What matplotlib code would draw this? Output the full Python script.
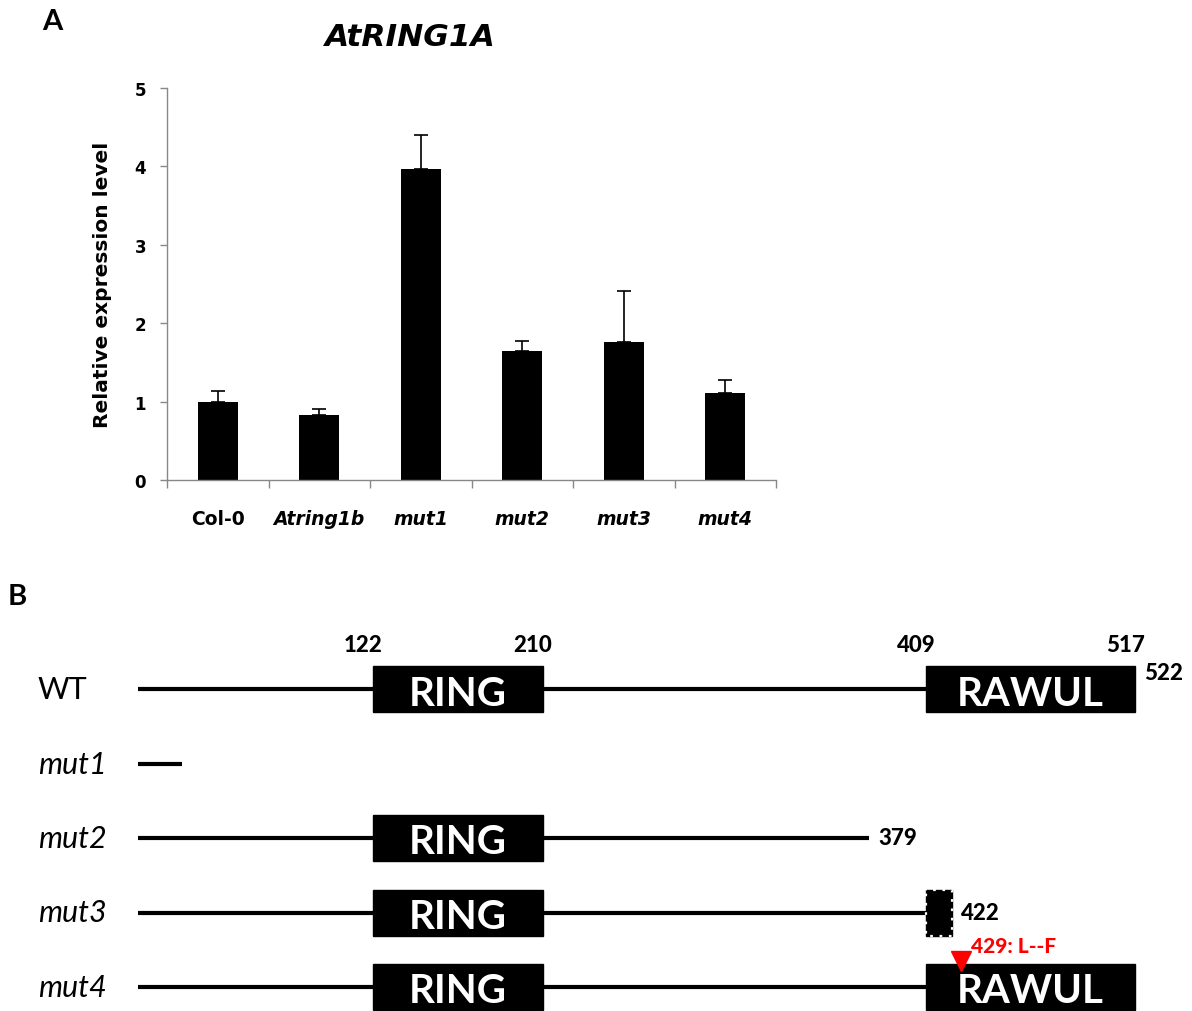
import matplotlib.pyplot as plt
from matplotlib.patches import Rectangle
import numpy as np

# qRT-PCR expression of AtRING1A
samples = ['Col-0', 'Atring1b', 'mut1', 'mut2', 'mut3', 'mut4']
expr_mean = [1.00, 0.83, 3.97, 1.65, 1.76, 1.11]
expr_err = [0.13, 0.07, 0.43, 0.12, 0.65, 0.16]

# protein domain map (amino acid positions)
wt_length = 522
ring_domain = (122, 210)
rawul_domain = (409, 517)
lines = ['WT', 'mut1', 'mut2', 'mut3', 'mut4']
protein_end = [522, 23, 379, 422, 522]
end_labels = ['522', '', '379', '422', '']
point_mutation = (429, '429: L--F')

fig = plt.figure(figsize=(11.92, 10.12), dpi=100)

# ---------------- panel B (drawn on a full-figure canvas) ----------------
axb = fig.add_axes([0, 0, 1, 1])
px_per_aa = 1.929
x0 = 137.5
axb.set_xlim(-x0 / px_per_aa, (1192 - x0) / px_per_aa)
axb.set_ylim(1012, 0)
axb.axis('off')
axb.patch.set_alpha(0)

row_y = [690 + i * 74.5 for i in range(len(lines))]
box_h = 46
lato = ['Lato', 'DejaVu Sans']


def draw_box(start, stop, y, label, dashed=False):
    axb.add_patch(Rectangle((start, y - box_h / 2), stop - start, box_h,
                            facecolor='black', edgecolor='black', lw=1, zorder=3))
    if dashed:
        # broken outline for the truncated domain
        axb.add_patch(Rectangle((start, y - box_h / 2), stop - start, box_h,
                                facecolor='none', edgecolor='white', lw=1.6,
                                linestyle=(1, (1.2, 3.0)), zorder=4))
        return
    if label:
        axb.text((start + stop) / 2, y + 4, label, color='white', fontsize=29,
                 fontweight='bold', family=lato, ha='center', va='center', zorder=4)


for name, end, lab, y in zip(lines, protein_end, end_labels, row_y):
    axb.plot([0, min(end, rawul_domain[1])], [y, y], color='black', lw=3,
             solid_capstyle='butt', zorder=2)
    style = 'normal' if name == 'WT' else 'italic'
    axb.text(-x0 / px_per_aa + 38 / px_per_aa, y, name, fontsize=22, style=style,
             family=lato, ha='left', va='center')
    if end >= ring_domain[1]:
        draw_box(*ring_domain, y, 'RING')
    if name == 'mut3':
        draw_box(rawul_domain[0], end, y, '', dashed=True)
    elif end >= rawul_domain[1]:
        draw_box(*rawul_domain, y, 'RAWUL')
    if lab:
        dy = -16 if name == 'WT' else 0
        gap = 0 if name == 'WT' else 7
        axb.annotate(lab, (end, y + dy), xytext=(gap, 0), textcoords='offset points',
                     fontsize=16, fontweight='black', family=lato, ha='left', va='center')

# domain boundaries above the WT protein
for pos in (*ring_domain, *rawul_domain):
    axb.annotate(str(pos), (pos, row_y[0] - box_h / 2), xytext=(-7, 8),
                 textcoords='offset points', fontsize=16, fontweight='black',
                 family=lato, ha='center', va='bottom')

# point mutation in mut4
mpos, mtext = point_mutation
axb.plot(mpos - 2, row_y[4] - 26, marker='v', color='red', ms=15, zorder=5, clip_on=False)
axb.annotate(mtext, (mpos, row_y[4] - 26), xytext=(4, 11), textcoords='offset points',
             fontsize=15, fontweight='black', family=lato, color='red',
             ha='left', va='center')

# ---------------- panel A ----------------
ax = fig.add_axes([167 / 1192, 1 - 481 / 1012, 609 / 1192, 392 / 1012])
x = np.arange(len(samples))
ax.bar(x, expr_mean, width=0.39, color='black', zorder=2)
ax.errorbar(x, expr_mean, yerr=[np.zeros(len(expr_err)), expr_err], fmt='none',
            ecolor='black', elinewidth=1.2, capsize=5, capthick=1.2, zorder=1)
ax.set_xlim(-0.5, len(samples) - 0.5)
ax.set_ylim(0, 5)
ax.set_yticks(range(6))
ax.set_yticklabels([str(v) for v in range(6)], fontsize=12, fontweight='bold')
ax.set_xticks(x)
ax.set_xticklabels(samples, fontsize=13.5, fontweight='bold')
for t in ax.get_xticklabels()[1:]:
    t.set_style('italic')
ax.set_xticks(np.arange(-0.5, len(samples)), minor=True)
ax.tick_params(axis='x', which='major', length=0, pad=21)
ax.tick_params(axis='x', which='minor', length=6, color='#888888', width=1)
ax.tick_params(axis='y', length=5, color='#888888', width=1, pad=10)
for side in ('top', 'right'):
    ax.spines[side].set_visible(False)
for side in ('left', 'bottom'):
    ax.spines[side].set_color('#888888')
    ax.spines[side].set_linewidth(1)
ax.set_ylabel('Relative expression level', fontsize=14.5, fontweight='bold', labelpad=16)

fig.text(409 / 1192, 1 - 38 / 1012, 'AtRING1A', fontsize=22.5, fontweight='bold',
         style='italic', ha='center', va='center')
fig.text(42 / 1192, 1 - 22 / 1012, 'A', fontsize=21, fontweight='bold',
         family=lato, ha='left', va='center')
fig.text(8 / 1192, 1 - 597 / 1012, 'B', fontsize=21, fontweight='bold',
         family=lato, ha='left', va='center')

fig.savefig('out.png', dpi=100)
